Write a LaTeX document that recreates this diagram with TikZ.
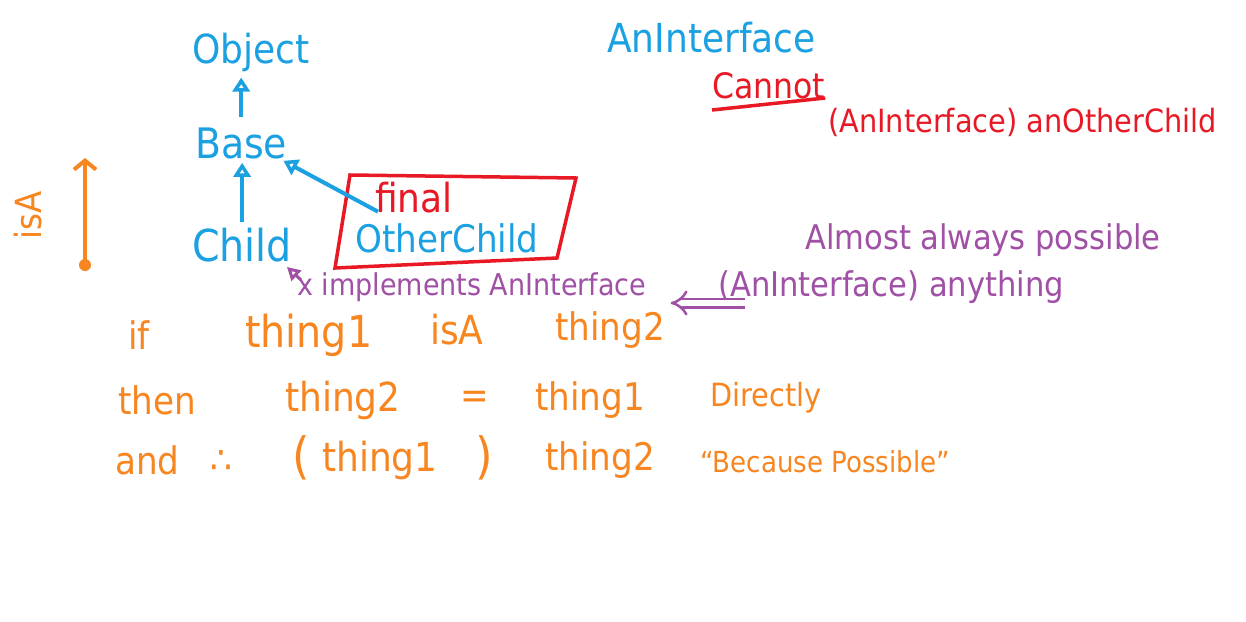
\documentclass[tikz,border=0pt]{standalone}
\usepackage{fontspec}
\setmainfont{DejaVu Sans Condensed}
\usetikzlibrary{arrows.meta}
\definecolor{pblue}{RGB}{27,161,226}
\definecolor{pred}{RGB}{232,24,36}
\definecolor{porange}{RGB}{247,134,32}
\definecolor{ppurple}{RGB}{160,80,165}
\newcommand\myfs[1]{\fontsize{#1}{#1}\selectfont}
\begin{document}
\begin{tikzpicture}[x=1pt,y=-1pt,
  txt/.style={inner sep=0pt, anchor=west},
  bluetxt/.style={txt, text=pblue},
  redtxt/.style={txt, text=pred},
  purtxt/.style={txt, text=ppurple},
  ortxt/.style={txt, text=porange, font=\myfs{38}},
  inherit/.style={draw=pblue, line width=4pt, -{Triangle[open,length=14pt,width=17pt]}},
]
\useasboundingbox[fill=white] (0,0) rectangle (1246,621);

% blue hierarchy
\node[bluetxt, font=\myfs{40}] (object) at (192,52) {Object};
\node[bluetxt, font=\myfs{42}] (base) at (195,143) {Base};
\node[bluetxt, font=\myfs{44}] (child) at (192,245) {Child};
\node[redtxt, font=\myfs{40}] (final) at (375,198) {final};
\node[bluetxt, font=\myfs{38}] (other) at (355,238) {OtherChild};
\draw[pred, line width=3.5pt] (350,175) -- (576,178) -- (557,258) -- (335,268) -- cycle;

\draw[inherit, shorten <=10pt, shorten >=6pt] (base.north) -- (base.north |- object.south);
\draw[inherit, shorten <=6pt, shorten >=4pt] (child.north) -- (child.north |- base.south);
\draw[inherit] ([xshift=3pt,yshift=2pt]final.south west) -- ([xshift=-4pt,yshift=-2pt]base.south east);

% interface / cannot
\node[bluetxt, font=\myfs{40}] (anint) at (607,38) {AnInterface};
\node[redtxt, font=\myfs{35}] (cannot) at (712,86) {Cannot};
\draw[pred, line width=3.5pt] ([yshift=-24pt]cannot.west) -- ([yshift=-12pt]cannot.east);
\node[redtxt, font=\myfs{32}] (cast1) at (828,122) {(AnInterface) anOtherChild};

% purple
\node[purtxt, font=\myfs{30}] (impl) at (297,287) {x implements AnInterface};
\coordinate (impltip) at (287,267);
\draw[ppurple, line width=3pt, -{Triangle[open,length=13pt,width=14pt]}] ([shift={(14,13)}]impltip) -- (impltip);
\node[purtxt, font=\myfs{34}] (almost) at (805,240) {Almost always possible};
\node[purtxt, font=\myfs{34}] (anything) at (718,287) {(AnInterface) anything};
\draw[ppurple, line width=2.5pt, double distance=6pt, -{Implies}] ([xshift=27pt,yshift=-16pt]anything.west) -- ([xshift=24pt,yshift=-16pt]impl.east);

% isA arrow
\node[text=porange, font=\myfs{36}, rotate=90, inner sep=0pt] (isa) at (28,215) {isA};
\node[circle, fill=porange, inner sep=0pt, minimum size=12pt] (dot) at (85,265) {};
\coordinate (isatop) at (85,158);
\draw[porange, line width=4pt, -{Straight Barb[length=9pt,width=22pt]}] (dot.center) -- (isatop);

% orange lines
\node[ortxt] (if) at (128,335) {if};
\node[ortxt, font=\myfs{44}] (l1a) at (245,335) {thing1};
\node[ortxt, font=\myfs{40}] (l1b) at (430,330) {isA};
\node[ortxt] (l1c) at (555,330) {thing2};

\node[ortxt] (then) at (118,400) {then};
\node[ortxt, font=\myfs{40}] (l2a) at (285,400) {thing2};
\node[ortxt] (eq) at (460,400) {=};
\node[ortxt] (l2b) at (535,400) {thing1};
\node[ortxt, font=\myfs{32}] (l2c) at (710,398) {Directly};

\node[ortxt] (and) at (115,460) {and};
\node[ortxt] (ther) at (210,462) {∴};
\node[ortxt, font=\myfs{50}] (lp) at (292,458) {(};
\node[ortxt, font=\myfs{40}] (l3a) at (322,460) {thing1};
\node[ortxt, font=\myfs{50}] (rp) at (475,458) {)};
\node[ortxt] (l3b) at (545,460) {thing2};
\node[ortxt, font=\myfs{29}] (l3c) at (700,462) {“Because Possible”};
\end{tikzpicture}
\end{document}
